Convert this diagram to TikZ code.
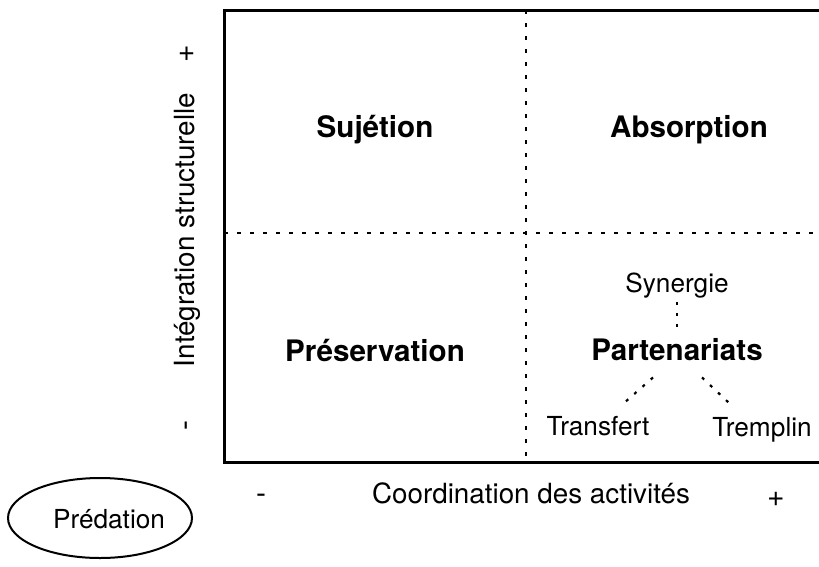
\documentclass[tikz,border=0pt]{standalone}
\usepackage{fontspec}
\setmainfont{TeX Gyre Heros}
\usetikzlibrary{shapes.geometric}
\begin{document}
\begin{tikzpicture}[x=1pt,y=-1pt,
  lbl/.style={font=\fontsize{27.8}{32}\selectfont, inner sep=0pt, anchor=base},
  slbl/.style={font=\fontsize{26.2}{30}\selectfont, inner sep=0pt, anchor=base},
  blbl/.style={font=\fontsize{29.6}{34}\selectfont\bfseries, inner sep=0pt, anchor=base},
  sym/.style={font=\fontsize{30}{34}\selectfont, inner sep=0pt, anchor=base},
  axisline/.style={line width=3pt},
  dotline/.style={line width=2.8pt, dash pattern=on 3.5pt off 9.5pt},
  link/.style={line width=2.2pt, dash pattern=on 3pt off 8pt}]
\useasboundingbox (0,0) rectangle (819,566);
% frame
\coordinate (tr) at (819,10);
\coordinate (tl) at (224,10);
\coordinate (bl) at (224,462);
\coordinate (br) at (819,462);
\coordinate (vtop) at (526,10);
\coordinate (vbot) at (526,462);
\coordinate (hl) at (224,233);
\coordinate (hr) at (819,233);
\draw[dotline] (vtop) -- (vbot);
\draw[dotline] (hl) -- (hr);
\draw[axisline] (tr) -- (tl) -- (bl) -- (br);
% quadrant labels
\node[blbl] (suj) at (375,137) {Sujétion};
\node[blbl] (abs) at (689,137) {Absorption};
\node[blbl] (pre) at (375,361) {Préservation};
\node[blbl] (par) at (677,360) {Partenariats};
\node[slbl] (syn) at (677,292) {Synergie};
\node[slbl] (tra) at (598,435) {Transfert};
\node[slbl] (tre) at (762,436) {Tremplin};
% connectors
\draw[link, shorten <=4pt, shorten >=9pt] (syn.south) -- (par.north);
\draw[link] ([xshift=-24pt,yshift=-17pt]par.south) -- ([xshift=23pt,yshift=10pt]tra.north);
\draw[link] ([xshift=25pt,yshift=-17pt]par.south) -- ([xshift=-29pt,yshift=10pt]tre.north);
% axis labels
\node[lbl, rotate=90] (ylab) at (194,230) {Intégration structurelle};
\node[sym, rotate=90] (yplus) at (194,54) {+};
\node[sym, rotate=90] (yminus) at (194,425) {-};
\node[sym] (xminus) at (261,503) {-};
\node[lbl] (xlab) at (531,503) {Coordination des activités};
\node[sym] (xplus) at (776,506) {+};
% Predation
\node[ellipse, draw, line width=2pt, minimum width=184pt, minimum height=80pt, inner sep=0pt] (pred) at (100,518) {};
\node[slbl] (predtxt) at (109,528) {Prédation};
\end{tikzpicture}
\end{document}
